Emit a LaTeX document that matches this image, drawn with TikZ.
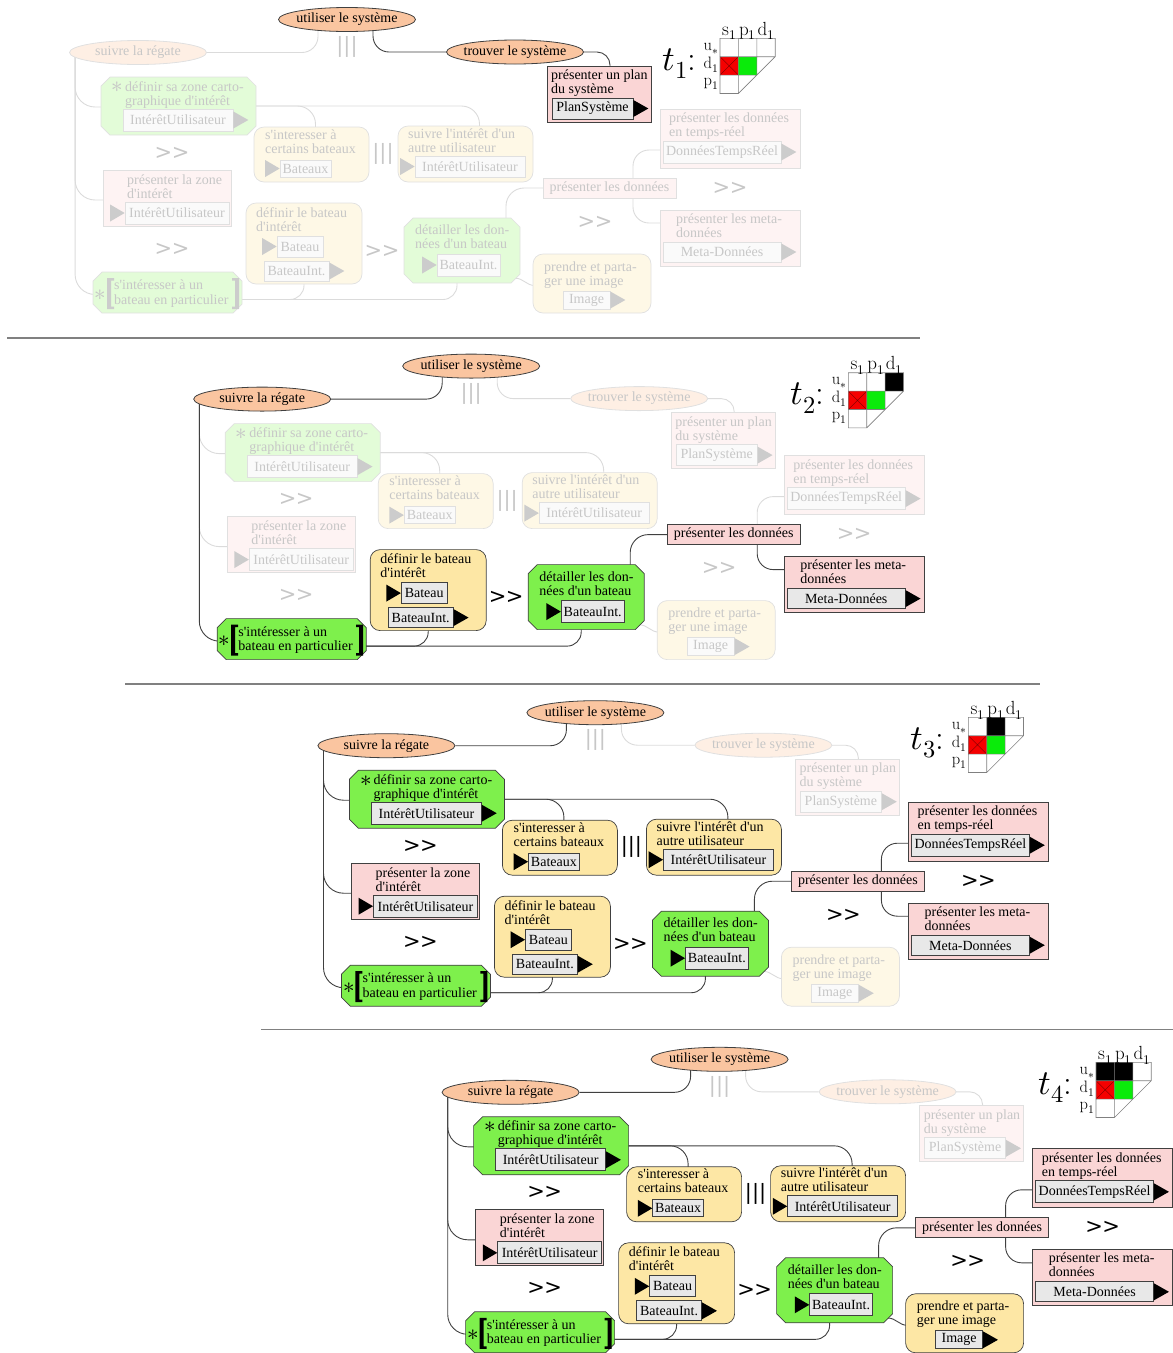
\documentclass[tikz,border=0pt]{standalone}
\usepackage{fontspec}
\usepackage{unicode-math}
\setmainfont{Liberation Serif}
\newfontfamily\lmfont{Latin Modern Roman}
\newfontfamily\djv{DejaVu Sans}
\usetikzlibrary{shapes.geometric,calc}
\pgfdeclarelayer{bg}
\pgfsetlayers{bg,main}
\definecolor{myorange}{RGB}{250,197,160}
\definecolor{mygreen}{RGB}{126,240,76}
\definecolor{myyellow}{RGB}{253,231,165}
\definecolor{mypink}{RGB}{250,213,213}
\definecolor{boxgray}{RGB}{232,232,232}
\definecolor{mred}{RGB}{245,0,0}
\definecolor{mgreen}{RGB}{10,235,10}
\colorlet{cO}{myorange}\colorlet{cG}{mygreen}\colorlet{cY}{myyellow}\colorlet{cP}{mypink}
\colorlet{cI}{boxgray}\colorlet{cT}{black}\colorlet{cB}{black!75}\colorlet{cK}{black}\colorlet{cE}{black!75}
\newcommand\fs{\fontsize{14}{14}\selectfont}
\newcommand\q{\textquotesingle}
\newcommand\seqop{>\kern-0.5pt>}
\tikzset{
 actv/.style={/utils/exec={\colorlet{cO}{myorange}\colorlet{cG}{mygreen}\colorlet{cY}{myyellow}\colorlet{cP}{mypink}%
   \colorlet{cI}{boxgray}\colorlet{cT}{black}\colorlet{cB}{black!75}\colorlet{cK}{black}\colorlet{cE}{black!75}}},
 fadd/.style={/utils/exec={\colorlet{cO}{myorange!28!white}\colorlet{cG}{mygreen!22!white}\colorlet{cY}{myyellow!28!white}\colorlet{cP}{mypink!28!white}%
   \colorlet{cI}{boxgray!20!white}\colorlet{cT}{black!22}\colorlet{cB}{black!12}\colorlet{cK}{black!20}\colorlet{cE}{black!14}}},
 ell/.style={ellipse, draw=cB, fill=cO, line width=0.8pt, minimum width=137pt, minimum height=24pt, inner xsep=-4pt, inner ysep=0pt, font=\fs, text=cT},
 prect/.style={rectangle, draw=cB, fill=cP, line width=0.7pt, inner sep=0pt},
 yrect/.style={rectangle, rounded corners=10pt, draw=cB, fill=cY, line width=0.7pt, inner sep=0pt},
 gshape/.style={draw=cB, fill=cG, line width=0.7pt},
 port/.style={rectangle, draw=cB, fill=cI, line width=0.7pt, inner sep=0pt, font=\fs, text=cT},
 txt/.style={font=\fs, text=cT, anchor=base west, inner sep=0pt},
 astk/.style={font=\fontsize{23}{23}\selectfont, text=cT, inner sep=0pt},
 opn/.style={font=\djv\fontsize{21}{21}\selectfont, text=cT, inner sep=0pt},
 conn/.style={draw=cE, line width=0.9pt, rounded corners=16pt},
 gridc/.style={draw=black!50, line width=0.6pt},
 ml/.style={font=\lmfont\fontsize{19}{19}\selectfont, inner sep=0pt},
 mr/.style={font=\lmfont\fontsize{16.5}{16.5}\selectfont, inner sep=0pt, anchor=base east},
 tl/.style={font=\lmfont\fontsize{35}{35}\selectfont, inner sep=0pt, anchor=base east},
 sepl/.style={draw=black!50, line width=1.6pt},
}
\newcommand\allstate[1]{\tikzset{sUtil/.style=#1,sSuiv/.style=#1,sTrouv/.style=#1,sPlan/.style=#1,sDefz/.style=#1,sPresz/.style=#1,sSint/.style=#1,sCert/.style=#1,sSuivi/.style=#1,sDefb/.style=#1,sDet/.style=#1,sPresd/.style=#1,sTemps/.style=#1,sMeta/.style=#1,sPrend/.style=#1,sOpA/.style=#1,sOpB/.style=#1,sOpC/.style=#1,sOpD/.style=#1,sOpE/.style=#1,sOpF/.style=#1,sOpG/.style=#1,sEUS/.style=#1,sEUT/.style=#1,sETP/.style=#1,sESD/.style=#1,sESP/.style=#1,sESI/.style=#1,sEDC/.style=#1,sEDS/.style=#1,sEID/.style=#1,sEIT/.style=#1,sEDP/.style=#1,sEDR/.style=#1,sEPT/.style=#1,sEPM/.style=#1}}
% box from corners
\newcommand\bx[7][]{\node[#1, minimum width={(#5)-(#3)}, minimum height={(#6)-(#4)}] (#2) at ({((#3)+(#5))/2},{((#4)+(#6))/2}) {#7};}
% octagon
\newcommand\oct[6]{\node[rectangle, inner sep=0pt, minimum width={(#4)-(#2)}, minimum height={(#5)-(#3)}] (#1) at ({((#2)+(#4))/2},{((#3)+(#5))/2}) {};
 \path[gshape] ({#2+#6},#3) -- ({#4-#6},#3) -- (#4,{#3+#6}) -- (#4,{#5-#6}) -- ({#4-#6},#5) -- ({#2+#6},#5) -- (#2,{#5-#6}) -- (#2,{#3+#6}) -- cycle;}
\newcommand\triR[1]{\fill[cK] ($(#1.east)+(0,-8.5)$) -- ($(#1.east)+(0,8.5)$) -- ($(#1.east)+(15,0)$) -- cycle;}
\newcommand\triL[1]{\fill[cK] ($(#1.west)+(-14.5,-8.5)$) -- ($(#1.west)+(-14.5,8.5)$) -- (#1.west) -- cycle;}
\newcommand\panelbody{%
\begin{scope}[sUtil]\node[ell] (util) at (347,19.5) {utiliser le système};\end{scope}
\begin{scope}[sSuiv]\node[ell] (suiv) at (138,52.5) {suivre la régate};\end{scope}
\begin{scope}[sTrouv]\node[ell] (trouv) at (515,52) {trouver le système};\end{scope}
\begin{scope}[sOpA]\node[opn] (opA) at (347,47) {|||};\end{scope}
\begin{scope}[sPlan]
 \bx[prect]{plan}{547}{66}{651}{122}{}
 \node[txt] (plan1) at (551,79.5) {présenter un plan};
 \node[txt] (plan2) at (551,93.5) {du système};
 \bx[port]{planP}{552}{98}{633}{119}{PlanSystème}
 \triR{planP}
\end{scope}
\begin{scope}[sDefz]
 \oct{defz}{101}{77}{256}{135}{9}
 \node[astk] (defzS) at (117.5,87.5) {$\ast$};
 \node[txt] (defz1) at (125,91) {définir sa zone carto-};
 \node[txt] (defz2) at (125,105) {graphique d\q intérêt};
 \bx[port]{defzP}{123}{109}{233}{131}{IntérêtUtilisateur}
 \triR{defzP}
\end{scope}
\begin{scope}[sOpB]\node[opn] (opB) at (172,153) {\seqop};\end{scope}
\begin{scope}[sPresz]
 \bx[prect]{presz}{103}{170}{231}{226}{}
 \node[txt] (presz1) at (127,184) {présenter la zone};
 \node[txt] (presz2) at (127,198) {d\q intérêt};
 \bx[port]{preszP}{125}{202}{229}{224}{IntérêtUtilisateur}
 \triL{preszP}
\end{scope}
\begin{scope}[sOpC]\node[opn] (opC) at (172,249) {\seqop};\end{scope}
\begin{scope}[sSint]
 \oct{sint}{93}{272}{242}{313}{9}
 \node[astk] (sintS) at (100.5,295) {$\ast$};
 \fill[cK] (107,278) -- (114,278) -- (114,280.5) -- (111,280.5) -- (111,306.5) -- (114,306.5) -- (114,309) -- (107,309) -- cycle;
 \fill[cK] (239,278) -- (232,278) -- (232,280.5) -- (235,280.5) -- (235,306.5) -- (232,306.5) -- (232,309) -- (239,309) -- cycle;
 \node[txt] (sint1) at (114,289.5) {s\q intéresser à un};
 \node[txt] (sint2) at (114,304) {bateau en particulier};
\end{scope}
\begin{scope}[sCert]
 \bx[yrect]{cert}{254}{127}{369}{182}{}
 \node[txt] (cert1) at (265,139) {s\q interesser à};
 \node[txt] (cert2) at (265,153) {certains bateaux};
 \bx[port]{certP}{280}{160}{331}{177}{Bateaux}
 \triL{certP}
\end{scope}
\begin{scope}[sOpD]\node[opn] (opD) at (383,154) {|||};\end{scope}
\begin{scope}[sSuivi]
 \bx[yrect]{suivi}{398}{126}{533}{182}{}
 \node[txt] (suivi1) at (408,138) {suivre l\q intérêt d\q un};
 \node[txt] (suivi2) at (408,152) {autre utilisateur};
 \bx[port]{suiviP}{415}{156}{525}{177}{IntérêtUtilisateur}
 \triL{suiviP}
\end{scope}
\begin{scope}[sDefb]
 \bx[yrect]{defb}{246}{203}{362}{284}{}
 \node[txt] (defb1) at (256,217) {définir le bateau};
 \node[txt] (defb2) at (256,231) {d\q intérêt};
 \bx[port]{defbP}{277}{236}{323}{257}{Bateau}
 \triL{defbP}
 \bx[port]{defbQ}{264}{261}{329}{281}{BateauInt.}
 \triR{defbQ}
\end{scope}
\begin{scope}[sOpE]\node[opn] (opE) at (382,251) {\seqop};\end{scope}
\begin{scope}[sDet]
 \oct{det}{404}{218}{520}{283}{9}
 \node[txt] (det1) at (415,234.5) {détailler les don-};
 \node[txt] (det2) at (415,248.5) {nées d\q un bateau};
 \bx[port]{detP}{437}{254}{500}{276}{BateauInt.}
 \triL{detP}
\end{scope}
\begin{scope}[sPresd]
 \bx[prect,font=\fs,text=cT]{presd}{543}{178}{676}{198}{présenter les données}
\end{scope}
\begin{scope}[sOpF]\node[opn] (opF) at (595,222) {\seqop};\end{scope}
\begin{scope}[sTemps]
 \bx[prect]{temps}{660}{109}{800}{168}{}
 \node[txt] (temps1) at (669,122.5) {présenter les données};
 \node[txt] (temps2) at (669,136.5) {en temps-réel};
 \bx[port]{tempsP}{663}{141}{781}{163}{DonnéesTempsRéel}
 \triR{tempsP}
\end{scope}
\begin{scope}[sOpG]\node[opn] (opG) at (730,188) {\seqop};\end{scope}
\begin{scope}[sMeta]
 \bx[prect]{meta}{660}{210}{800}{266}{}
 \node[txt] (meta1) at (676,223) {présenter les meta-};
 \node[txt] (meta2) at (676,237) {données};
 \bx[port]{metaP}{663}{242}{781}{262}{Meta-Données}
 \triR{metaP}
\end{scope}
\begin{scope}[sPrend]
 \bx[yrect]{prend}{533}{254}{651}{313}{}
 \node[txt] (prend1) at (544,271) {prendre et parta-};
 \node[txt] (prend2) at (544,285) {ger une image};
 \bx[port]{prendP}{563}{291}{610}{309}{Image}
 \triR{prendP}
\end{scope}
\begin{pgfonlayer}{bg}
 \begin{scope}[sEUS]\draw[conn] ($(util.center)+(-29,8)$) |- (suiv.east);\end{scope}
 \begin{scope}[sEUT]\draw[conn] ($(util.center)+(26,8)$) |- (trouv.west);\end{scope}
 \begin{scope}[sETP]\draw[conn,rounded corners=13pt] ($(trouv.east)+(-5,0)$) -| ($(plan.north)+(11,6)$);\end{scope}
 \begin{scope}[sESD]\draw[conn,rounded corners=20pt] ($(suiv.west)+(6,2)$) |- ($(defz.west)+(4,1)$);\end{scope}
 \begin{scope}[sESP]\draw[conn,rounded corners=20pt] ($(suiv.west)+(6,2)$) |- ($(presz.west)+(4,2)$);\end{scope}
 \begin{scope}[sESI]\draw[conn,rounded corners=20pt] ($(suiv.west)+(6,2)$) |- ($(sint.west)+(4,2)$);\end{scope}
 \begin{scope}[sEDC]\draw[conn,rounded corners=18pt] ($(defz.east)+(-4,0)$) -| ($(cert.north)+(4,5)$);\end{scope}
 \begin{scope}[sEDS]\draw[conn,rounded corners=18pt] ($(defz.east)+(-4,0)$) -| ($(suivi.north)+(14,5)$);\end{scope}
 \begin{scope}[sEID]\draw[conn,rounded corners=14pt] ($(sint.east)+(-4,7)$) -| ($(defb.south)+(0,-4)$);\end{scope}
 \begin{scope}[sEIT]\draw[conn,rounded corners=14pt] ($(sint.east)+(-4,7)$) -| ($(det.south)+(-5,-4)$);\end{scope}
 \begin{scope}[sEDP]\draw[conn,rounded corners=18pt] ($(det.north)+(44,4)$) |- ($(presd.west)+(4,0)$);\end{scope}
 \begin{scope}[sEDR]\draw[conn] ($(det.south east)+(-5,-5)$) to[out=0,in=180] ($(prend.west)+(2,2)$);\end{scope}
 \begin{scope}[sEPT]\draw[conn] ($(presd.center)+(23.5,0)$) |- ($(temps.west)+(3,11.5)$);\end{scope}
 \begin{scope}[sEPM]\draw[conn] ($(presd.center)+(23.5,0)$) |- ($(meta.west)+(3,-15)$);\end{scope}
\end{pgfonlayer}
}
% matrix: name, gx, gy, index, black cells
\newcommand\tmat[5]{%
\begin{scope}[shift={(#2,#3)}]
 #5
 \fill[mred] (0,18.4) rectangle (18.4,36.8);
 \draw[red!45!black, line width=0.4pt] (0,18.4) -- (18.4,36.8) (18.4,18.4) -- (0,36.8);
 \fill[mgreen] (18.4,18.4) rectangle (36.8,36.8);
 \draw[gridc] (0,0) -- (55.2,0) -- (55.2,18.4) -- (18.4,55.2) -- (0,55.2) -- cycle
   (18.4,0) -- (18.4,55.2) (36.8,0) -- (36.8,36.8) (0,18.4) -- (55.2,18.4) (0,36.8) -- (36.8,36.8);
 \node[ml, anchor=base] (#1c1) at (9.2,-3) {s$_1$};
 \node[ml, anchor=base] (#1c2) at (27.6,-3) {p$_1$};
 \node[ml, anchor=base] (#1c3) at (46,-3) {d$_1$};
 \node[mr] (#1r1) at (-1.5,12) {u$_*$};
 \node[mr] (#1r2) at (-1.5,30) {d$_1$};
 \node[mr] (#1r3) at (-1.5,47) {p$_1$};
 \node[tl] (#1t) at (-24,32) {$t_{#4}$\kern-1pt:};
\end{scope}}
\begin{document}
\begin{tikzpicture}[x=1pt,y=-1pt]
\useasboundingbox (0,0) rectangle (1173,1353);
% panel 1
\allstate{fadd}
\tikzset{sUtil/.style=actv,sTrouv/.style=actv,sPlan/.style=actv,sEUT/.style=actv,sETP/.style=actv}
\begin{scope}[name prefix=pa-]\panelbody\end{scope}
% panel 2
\allstate{fadd}
\tikzset{sUtil/.style=actv,sSuiv/.style=actv,sSint/.style=actv,sDefb/.style=actv,sDet/.style=actv,sPresd/.style=actv,sMeta/.style=actv,sOpE/.style=actv,sEUS/.style=actv,sESI/.style=actv,sEID/.style=actv,sEIT/.style=actv,sEDP/.style=actv,sEPM/.style=actv}
\begin{scope}[shift={(124.2,346.6)},name prefix=pb-]\panelbody\end{scope}
% panel 3
\allstate{actv}
\tikzset{sTrouv/.style=fadd,sPlan/.style=fadd,sPrend/.style=fadd,sOpA/.style=fadd,sEUT/.style=fadd,sETP/.style=fadd,sEDR/.style=fadd}
\begin{scope}[shift={(248.4,693.2)},name prefix=pc-]\panelbody\end{scope}
% panel 4
\allstate{actv}
\tikzset{sTrouv/.style=fadd,sPlan/.style=fadd,sOpA/.style=fadd,sEUT/.style=fadd,sETP/.style=fadd}
\begin{scope}[shift={(372.6,1039.8)},name prefix=pd-]\panelbody\end{scope}
% matrices
\tmat{ma}{720}{38.3}{1}{}
\tmat{mb}{848.3}{372.7}{2}{\fill[black] (36.8,0) rectangle (55.2,18.4);}
\tmat{mc}{968.3}{717.3}{3}{\fill[black] (18.4,0) rectangle (36.8,18.4);}
\tmat{md}{1096}{1062.3}{4}{\fill[black] (0,0) rectangle (36.8,18.4);}
% separators
\draw[sepl] (7,338) -- (920,338);
\draw[sepl] (125,684) -- (1040,684);
\draw[sepl] (261,1029.5) -- (1173,1029.5);
\end{tikzpicture}
\end{document}
